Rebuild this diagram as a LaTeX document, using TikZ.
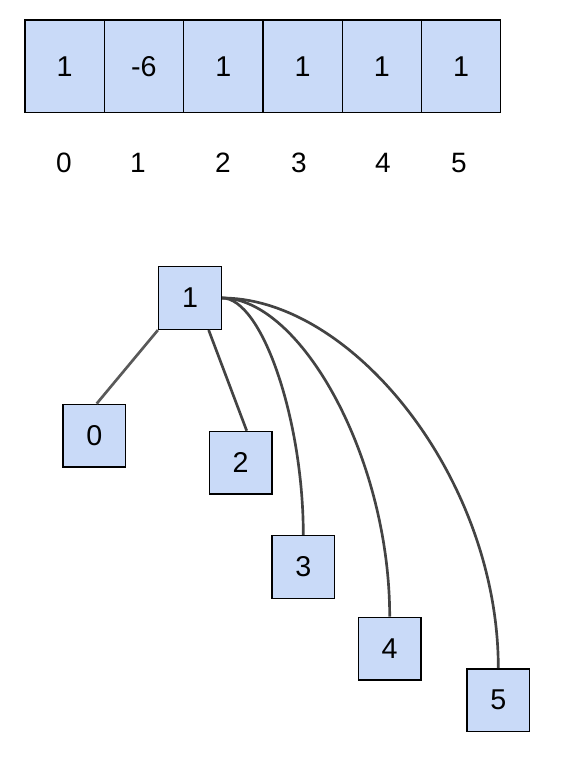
\documentclass[tikz,border=0pt]{standalone}
\usepackage{fontspec}
\setmainfont{Liberation Sans}
\definecolor{cellblue}{HTML}{C9DAF8}
\definecolor{edgegrey}{HTML}{434343}
\definecolor{edgegreyb}{HTML}{595959}
\begin{document}
\begin{tikzpicture}[x=0.75pt,y=-0.75pt,
  cell/.style={draw=black,line width=1pt,fill=cellblue,minimum width=59.5pt,minimum height=69.3pt,inner sep=0pt,anchor=north west,font=\fontsize{21.5}{24}\selectfont},
  idx/.style={inner sep=0pt,anchor=base,font=\fontsize{21}{24}\selectfont},
  tnode/.style={draw=black,line width=1.1pt,fill=cellblue,minimum width=47pt,minimum height=47pt,inner sep=0pt,font=\fontsize{21.5}{24}\selectfont},
  tedge/.style={draw=edgegrey,line width=2pt},
]
\useasboundingbox (0,0) rectangle (571,765);
% array
\node[cell] (c0) at (24.3,19.3) {1};
\node[cell] (c1) at (103.6,19.3) {-6};
\node[cell] (c2) at (182.9,19.3) {1};
\node[cell] (c3) at (262.2,19.3) {1};
\node[cell] (c4) at (341.5,19.3) {1};
\node[cell] (c5) at (420.8,19.3) {1};
% indices
\node[idx] (i0) at (64,172) {0};
\node[idx] (i1) at (138,172) {1};
\node[idx] (i2) at (223,172) {2};
\node[idx] (i3) at (299,172) {3};
\node[idx] (i4) at (383,172) {4};
\node[idx] (i5) at (459,172) {5};
% tree
\node[tnode] (n1) at (190,298) {1};
\node[tnode] (n0) at (94.3,435.7) {0};
\node[tnode] (n2) at (240.7,462.8) {2};
\node[tnode] (n3) at (303.3,567) {3};
\node[tnode] (n4) at (389.7,648.8) {4};
\node[tnode] (n5) at (498.3,700.2) {5};
% edges
\draw[tedge,draw=edgegreyb] (n1.south west) -- ([xshift=1.8pt]n0.north);
\draw[tedge] ([xshift=14pt]n1.south) -- ([xshift=4.5pt]n2.north);
\draw[tedge] (n1.east) .. controls +(40,0) and +(0,-115) .. (n3.north);
\draw[tedge] (n1.east) .. controls +(78,0) and +(0,-160) .. (n4.north);
\draw[tedge] (n1.east) .. controls +(130,0) and +(0,-190) .. (n5.north);
\end{tikzpicture}
\end{document}
